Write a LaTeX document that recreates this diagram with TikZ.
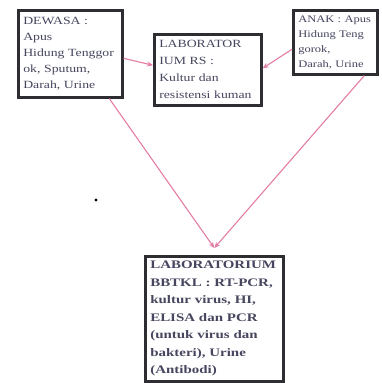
\documentclass[tikz,border=0pt]{standalone}
\usepackage{fontspec}
\setmainfont{Liberation Serif}
\newfontfamily\boxfont[FakeStretch=1.25]{Liberation Serif}
\newfontfamily\labfont[FakeStretch=1.3]{Liberation Serif}
\usetikzlibrary{arrows.meta}
\definecolor{bordercol}{RGB}{45,45,50}
\definecolor{txtcol}{RGB}{70,70,95}
\definecolor{arrcol}{RGB}{228,125,165}
\tikzset{
  boxnode/.style={draw=bordercol, line width=2.6pt, fill=white, rectangle,
    anchor=north west, inner xsep=5pt, inner ysep=0pt, align=left,
    text=txtcol},
  arr/.style={draw=arrcol, line width=1.1pt, -{Stealth[length=6pt,width=5pt]}},
}
\begin{document}
\begin{tikzpicture}[x=1pt,y=-1pt]
\useasboundingbox (0,0) rectangle (382,383);
\node[boxnode, text width=94pt, minimum height=87pt,
  font=\boxfont\fontsize{11pt}{16pt}\selectfont] (dewasa) at (17,9)
  {DEWASA :\\Apus\\Hidung~Tenggor\\ok,~Sputum,\\Darah,~Urine};
\node[boxnode, text width=97pt, minimum height=71pt,
  font=\boxfont\fontsize{11pt}{17pt}\selectfont] (labrs) at (153,33)
  {LABORATOR\\IUM~RS~:\\Kultur~dan\\resistensi~kuman};
\node[boxnode, text width=74pt, minimum height=64pt,
  font=\boxfont\fontsize{10pt}{15pt}\selectfont] (anak) at (292,9)
  {ANAK~:~Apus\\Hidung~Teng\\gorok,\\Darah,~Urine};
\node[boxnode, text width=128pt, minimum height=125pt, inner xsep=5pt,
  font=\labfont\bfseries\fontsize{11.5pt}{17.5pt}\selectfont] (lab) at (144,255)
  {LABORATORIUM\\BBTKL~:~RT-PCR,\\kultur~virus,~HI,\\ELISA~dan~PCR\\(untuk~virus~dan\\bakteri),~Urine\\(Antibodi)};
\coordinate (m) at ([yshift=7pt]lab.north);
\draw[arr] ([yshift=-4.5pt]dewasa.east) -- ([yshift=4.5pt]labrs.west);
\draw[arr] ([yshift=-7pt]anak.west) -- ([yshift=1.5pt]labrs.east);
\draw[arr] ([xshift=39pt]dewasa.south) -- (m);
\draw[arr] ([xshift=29pt]anak.south) -- (m);
\fill[black] (96,200) circle (1.6);
\end{tikzpicture}
\end{document}
